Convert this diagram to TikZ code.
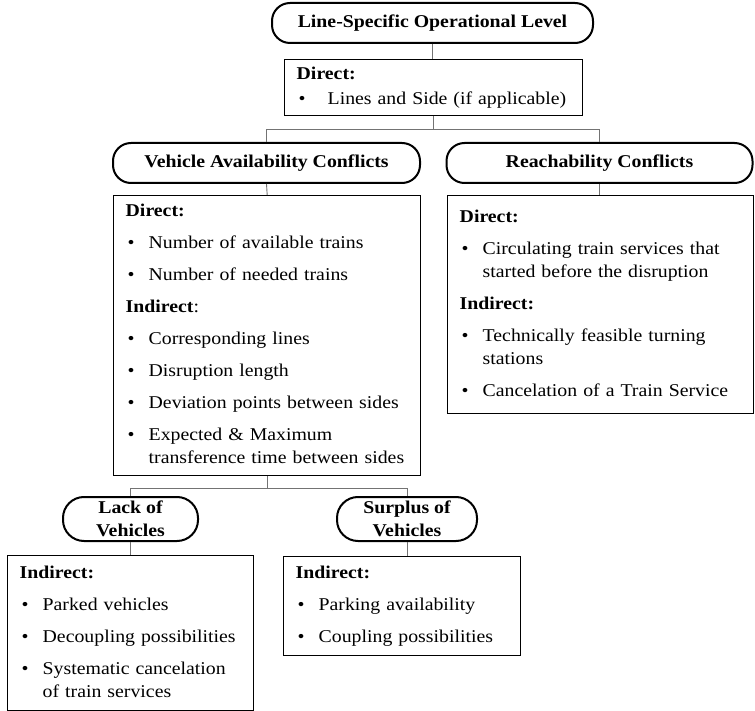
\documentclass[tikz,border=0pt]{standalone}
\usepackage{fontspec}
\setmainfont{Liberation Serif}[FakeStretch=1.1]

\newcommand{\itmbul}{\hspace*{2pt}\makebox[21pt][l]{\textbullet}}
\newcommand{\itmcont}{\hspace*{23pt}}

\tikzset{
  headbox/.style={draw, line width=2pt, rounded corners=18pt, align=center, inner sep=0pt,
    font=\fontsize{18}{23}\selectfont\bfseries},
  infobox/.style={draw, line width=1.4pt, anchor=north west, inner xsep=12pt, inner ysep=0pt,
    align=left, font=\fontsize{18}{23}\selectfont},
  link/.style={draw=black!55, line width=0.9pt}
}

\begin{document}
\begin{tikzpicture}[x=1pt, y=-1pt]
\useasboundingbox (0,0) rectangle (755,711);
% Top level
\node[headbox, minimum width=321pt, minimum height=40pt] (level) at (432.5,23) {Line-Specific Operational Level};
\node[infobox, text width=274pt, minimum height=56pt] (direct) at (284,59)
  {\strut\textbf{Direct:}\\[2pt]
   \hspace*{2pt}\makebox[29pt][l]{\textbullet}\makebox[252pt][s]{Lines and Side (if applicable)}\strut};
% Conflict types
\node[headbox, minimum width=307pt, minimum height=40pt] (vehicle) at (266.5,163) {Vehicle Availability Conflicts};
\node[headbox, minimum width=306pt, minimum height=40pt] (reach) at (599.5,163) {Reachability Conflicts};
\node[infobox, text width=283pt, minimum height=280pt] (vehdet) at (113,195)
  {\strut\textbf{Direct:}\\[9pt]
   \itmbul Number of available trains\\[9pt]
   \itmbul Number of needed trains\\[9pt]
   \textbf{Indirect}:\\[9pt]
   \itmbul Corresponding lines\\[9pt]
   \itmbul Disruption length\\[9pt]
   \itmbul Deviation points between sides\\[9pt]
   \itmbul Expected \& Maximum\\
   \itmcont transference time between sides\strut};
\node[infobox, text width=282pt, minimum height=218pt] (reachdet) at (447,195)
  {\strut\textbf{Direct:}\\[9pt]
   \itmbul Circulating train services that\\
   \itmcont started before the disruption\\[9pt]
   \textbf{Indirect:}\\[9pt]
   \itmbul Technically feasible turning\\
   \itmcont stations\\[9pt]
   \itmbul Cancelation of a Train Service\strut};
% Lack / surplus
\node[headbox, rounded corners=21pt, minimum width=135pt, minimum height=44pt] (lack) at (130.5,519) {Lack of\\Vehicles};
\node[headbox, rounded corners=21pt, minimum width=140pt, minimum height=44pt] (surplus) at (407,519) {Surplus of\\Vehicles};
\node[infobox, text width=222pt, minimum height=155pt] (lackdet) at (7,555)
  {\strut\textbf{Indirect:}\\[9pt]
   \itmbul Parked vehicles\\[9pt]
   \itmbul Decoupling possibilities\\[9pt]
   \itmbul Systematic cancelation\\
   \itmcont of train services\strut};
\node[infobox, text width=213pt, minimum height=99pt] (surplusdet) at (283,556)
  {\strut\textbf{Indirect:}\\[9pt]
   \itmbul Parking availability\\[9pt]
   \itmbul Coupling possibilities\strut};
% Connectors
\draw[link] (level.south) -- (direct.north -| level.south);
\draw[link] (direct.south) -- ++(0,13) coordinate (split1);
\draw[link] (vehicle.north) |- (split1) -| (reach.north);
\draw[link] (vehicle.south) -- (vehdet.north);
\draw[link] (reach.south) -- (reachdet.north -| reach.south);
\draw[link] (vehdet.south) -- ++(0,12) coordinate (split2);
\draw[link] (lack.north) |- (split2) -| (surplus.north);
\draw[link] (lack.south) -- (lackdet.north -| lack.south);
\draw[link] (surplus.south) -- (surplusdet.north -| surplus.south);
\end{tikzpicture}
\end{document}
